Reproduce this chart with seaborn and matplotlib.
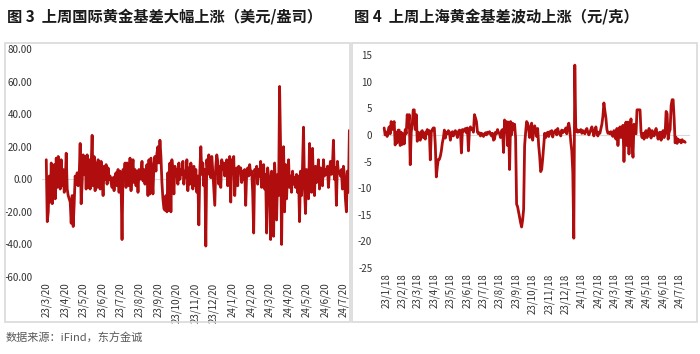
import numpy as np
import pandas as pd
import matplotlib
matplotlib.use("Agg")
import matplotlib.pyplot as plt
from matplotlib.patches import Rectangle
import seaborn as sns

# ---- 图3：国际黄金基差（美元/盎司），按日，约 2023-03-20 至 2024-07-30 ----
intl_start = "2023-03-20"
intl_end = "2024-07-30"
intl_basis = [
    12, -26, -20, 2, -14,   10, -15, -8, 9, -12,   13, -5, 14, 0, -6,
    12, -4, 6, -8, -3,      16, -6, -10, -12, -14, -27, -10, -29, -15, 2,
    -3, 4, -4, 2, 22,       -15, -2, 15, 3, 14,    -6, 15, -5, 12, -6,
    8, 27, -4, 14, -7,      10, -5, 12, 2, -6,     11, 3, -10, 8, 0,
    9, -3, 7, 0, 2,         -2, -5, 1, -7, 2,      4, -4, 6, -8, 5,
    -2, -37, 6, 3, 10,      -5, 10, 2, -4, 13,     -7, 4, 12, -2, 6,
    -4, 5, -8, 6, 0,        4, 11, -1, 6, -3,      5, 9, -10, 12, -9,
    13, 2, -9, 9, 14,       5, 16, 20, 10, 24,     14, -2, -12, -18, -19,
    -10, -20, 4, -19, 10,   -20, 12, 4, -9, 8,     2, 6, -3, 10, 0,
    6, 3, 11, -3, 5,        1, 12, -7, 7, -3,      10, 4, -6, 8, -4,
    6, -8, 2, -28, 5,       20, 3, 10, -4, 6,      -41, 12, 3, 15, 5,
    1, 14, 5, -6, -16,      8, 15, 11, -3, 8,      -5, 12, 6, 10, 2,
    8, 12, -4, 7, 14,       -14, 12, 4, 14, -10,   3, 7, -4, 8, 5,
    7, -2, 5, 0, 6,         -16, 4, 7, 2, 9,       3, 5, -8, -33, 6,
    4, 8, -3, 6, 2,         11, -5, 4, 9, -6,      3, -33, 7, 2, -10,
    -37, 5, -20, -35, 10,   -5, -25, 3, -10, 57,   20, -40, 8, 20, -20,
    9, -12, 4, 12, -5,      2, -8, 5, -3, 1,       -5, 3, -8, 2, -26,
    5, -10, 8, 32, -6,      -21, 6, 2, -12, 22,    5, -8, 19, -4, -10,
    8, -2, 3, 12, -6,       7, 4, -4, 12, 2,       6, 3, 8, -5, 5,
    11, 3, 8, 24, 0,        7, -16, 11, 4, 5,      2, 6, -6, 8, 3,
    -12, -20, 5, -8, 30,
]

# ---- 图4：上海黄金基差（元/克），按日，约 2023-01-14 至 2024-07-29 ----
sh_start = "2023-01-14"
sh_end = "2024-07-29"
sh_basis = [
    1.3, 0, 0.5, -0.3, 0.8,      1.5, 0.2, 2.5, 1.0, 2.0,     2.5, -1.9, 0.5, -1.5, 0.9,
    0.9, -2, 0.5, -1.8, 0.2,     -1.7, 1.0, 0.2, 3.8, 1.5,    3.8, -5.6, 0.5, 2.0, 4.7,
    4.7, 1.0, 3.8, -1.2, 0.5,    0.3, -1.0, 0.6, 0.8, -0.5,   0.4, -0.8, 0.5, 1.0, 0.2,
    0.8, -4.7, 0.5, 1.0, 1.3,    1.3, -2, -7.9, -6, -4.6,     -4.6, -4.0, -3, -1.5, -0.6,
    0.9, -0.6, 0.5, 0.2, 0.8,    0.5, -1.0, 0.3, 0.6, -0.2,   0.5, 0.8, 0.3, -0.5, 0.6,
    0.9, 0.8, -3.4, 1.0, 0.6,    1.0, 1.2, 0.4, 1.3, -3.0,    0.8, 1.5, 1.0, 1.2, 0.5,
    3.8, 3.2, 2.5, 0.5, 0.2,     0.4, -0.2, 0.3, 0.1, -0.3,   0.2, 0.4, 0.0, 0.5, 0.3,
    0.6, 0.2, -0.2, 0.3, -1.0,   -0.8, 0.5, 0.2, 1.0, 0.4,    0.3, -0.5, 0.8, 1.0, -3.3,
    2.8, 0.5, 2.5, -2.0, 2.4,    -6.5, 2.5, 0.0, 2.2, 1.0,    2.0, -0.5, -13.0, -13.5, -14.5,
    -15.5, -16.5, -17.3, -16, -14, -2.0, 0.5, 2.5, 2.2, 1.0,  -0.5, 1.5, 2.2, -1.0, 0.5,
    1.7, 1.0, -0.3, 1.2, -2,     -4, -6.9, -6.5, -4.5, -2,    0.3, -0.5, 0.2, 0.5, -0.3,
    0.6, 0.2, 0.8, -0.4, 0.5,    0.6, 0.9, 0.0, 1.2, 0.3,     0.5, -0.2, 0.9, 0.4, 0.8,
    0.6, 1.3, 0.2, 1.5, 2.2,     1.0, -1.3, -3, -7, -19.4,    13.1, 0.6, 1.0, 0.5, 0.8,
    0.6, 1.0, 0.3, 0.8, 0.5,     0.2, 0.9, 1.2, 0.5, 0.0,     0.4, 1.0, 1.5, 0.8, -0.2,
    0.6, 1.5, 0.3, -0.2, 0.5,    0.3, 1.2, 2.0, 3.5, 6.0,     4.5, 3.2, 1.0, 0.3, 0.5,
    0.2, 0.6, 0.0, -0.3, 0.8,    0.3, -0.8, 1.2, -2.0, 0.6,   1.5, -0.5, 1.0, 1.8, -5,
    0.8, 2.4, -2.0, 2.4, -3.6,   1.0, 3.0, -1.5, -4.2, 2.0,   0.5, 0.2, 4.7, 4.7, 4.7,
    4.7, 0.5, -0.5, 0.3, -0.8,   0.4, 0.8, -0.5, 0.2, 1.2,    0.3, -0.6, 0.8, 0.4, -0.2,
    0.6, 1.2, 0.2, -0.8, 0.4,    0.5, -1.0, 0.3, 0.8, -0.5,   0.2, 4.4, 4.0, -0.8, 0.5,
    1.0, 5.5, 6.6, 6.6, 3.0,     -1.5, -0.5, -1.6, -0.8, -1.2, -1.0, -1.5, -0.9, -1.3, -1.2, -1.4,
]

title_left = "图 3  上周国际黄金基差大幅上涨（美元/盎司）"
title_right = "图 4  上周上海黄金基差波动上涨（元/克）"
source_text = "数据来源：iFind，东方金诚"

left_yticks = [80, 60, 40, 20, 0, -20, -40, -60]
right_yticks = [15, 10, 5, 0, -5, -10, -15, -20, -25]

df_intl = pd.DataFrame({
    "date": pd.date_range(intl_start, intl_end, periods=len(intl_basis)),
    "basis": intl_basis,
})
df_sh = pd.DataFrame({
    "date": pd.date_range(sh_start, sh_end, periods=len(sh_basis)),
    "basis": sh_basis,
})

sns.set_style("white")
plt.rcParams["font.family"] = ["Noto Sans CJK SC", "DejaVu Sans"]
plt.rcParams["axes.unicode_minus"] = False

W, H = 700, 354
fig = plt.figure(figsize=(W / 100, H / 100), dpi=100)

def fx(px):
    return px / W

def fy(py):
    return 1 - py / H

line_color = "#B00E0E"
txt_color = "#333333"

# 两个灰色外框
for x0, x1 in [(5, 350), (352, 697)]:
    fig.patches.append(Rectangle((fx(x0), fy(322)), fx(x1 - x0), (322 - 43) / H,
                                 transform=fig.transFigure, fill=False,
                                 edgecolor="#d9d9d9", linewidth=1.2))

# 左图
ax1 = fig.add_axes([fx(42), fy(277), fx(308), (277 - 49) / H])
sns.lineplot(data=df_intl, x="date", y="basis", ax=ax1, color=line_color, linewidth=2.0)
ax1.axhline(0, color="#d9d9d9", linewidth=0.8, zorder=0)
ax1.set_ylim(-60, 80)
ax1.set_yticks(left_yticks)
ax1.yaxis.set_major_formatter(matplotlib.ticker.FormatStrFormatter("%.2f"))
ax1.set_xlim(pd.Timestamp("2023-03-13"), pd.Timestamp("2024-07-31"))
ticks1 = pd.date_range("2023-03-01", "2024-07-01", freq="MS") + pd.Timedelta(days=19)
ax1.set_xticks(ticks1)
ax1.set_xticklabels([f"{d:%y}/{d.month}/{d.day}" for d in ticks1], rotation=90)

# 右图
ax2 = fig.add_axes([fx(382), fy(268), fx(308), (268 - 55) / H])
sns.lineplot(data=df_sh, x="date", y="basis", ax=ax2, color=line_color, linewidth=2.0)
ax2.axhline(0, color="#d9d9d9", linewidth=0.8, zorder=0)
ax2.set_ylim(-25, 15)
ax2.set_yticks(right_yticks)
ax2.set_xlim(pd.Timestamp("2023-01-10"), pd.Timestamp("2024-08-07"))
ticks2 = pd.date_range("2023-01-01", "2024-07-01", freq="MS") + pd.Timedelta(days=17)
ax2.set_xticks(ticks2)
ax2.set_xticklabels([f"{d:%y}/{d.month}/{d.day}" for d in ticks2], rotation=90)

for ax in (ax1, ax2):
    ax.set_xlabel("")
    ax.set_ylabel("")
    for s in ax.spines.values():
        s.set_visible(False)
    ax.tick_params(axis="both", length=0, labelsize=7, colors=txt_color)
    ax.tick_params(axis="y", pad=7)
    ax.tick_params(axis="x", pad=4)
    ax.set_facecolor("none")

fig.text(fx(7), fy(17), title_left, fontsize=11, fontweight="bold",
         color="#1a1a1a", va="center", ha="left")
fig.text(fx(354), fy(17), title_right, fontsize=11, fontweight="bold",
         color="#1a1a1a", va="center", ha="left")
fig.text(fx(6), fy(338), source_text, fontsize=8, color="#595959",
         va="center", ha="left")

fig.savefig("out.png", dpi=100)
